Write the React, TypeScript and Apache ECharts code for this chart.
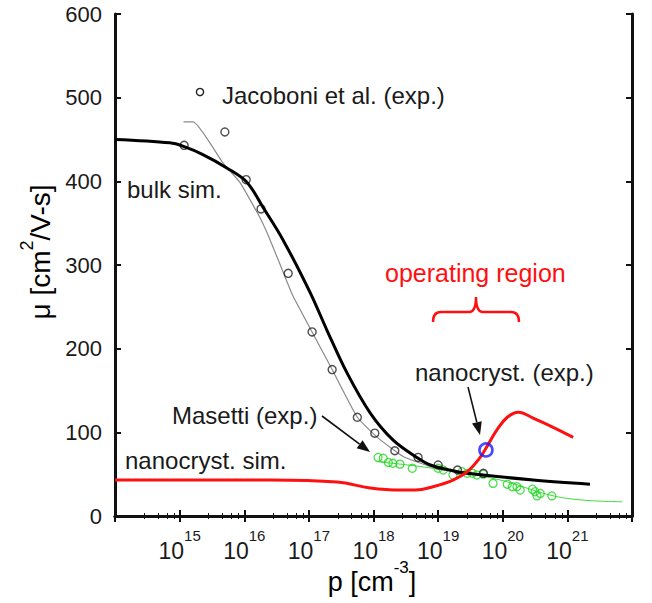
import React, { useEffect, useRef } from 'react';
import * as echarts from 'echarts';

const FONT = 'Liberation Sans, Arial, sans-serif';

// x values stored as log10(p [cm^-3])
const bulkSimLogP = [14.0, 14.85, 15.05, 15.36, 15.73, 16.04, 16.29, 16.6, 17.02, 17.28, 17.59, 17.95, 18.3, 18.67, 18.88, 19.3, 19.7, 20.47, 21.35];
const bulkSimMu = [450, 446, 442, 432, 416, 399, 369, 330, 267, 222, 171, 123, 91, 70, 61, 53, 49, 43, 38];

const jacoboniFitLogP = [15.06, 15.21, 15.67, 15.93, 16.24, 16.4, 16.63, 16.76, 17.05, 17.36, 17.75, 18.06, 18.46, 18.88, 19.0];
const jacoboniFitMu = [471, 471, 422, 399, 357, 330, 286, 262, 220, 175, 118, 94, 71, 59, 57];

const jacoboniLogP = [15.07, 15.7, 16.03, 16.26, 16.68, 17.05, 17.36, 17.75, 18.02, 18.33, 18.69, 19.0, 19.3, 19.7];
const jacoboniMu = [443, 459, 402, 367, 290, 220, 175, 118, 99, 78, 70, 61, 55, 51];

const masettiLogP = [18.07, 18.15, 18.23, 18.3, 18.41, 18.6, 19.0, 19.08, 19.23, 19.37, 19.45, 19.53, 19.6, 19.7, 19.85, 20.07, 20.15, 20.22, 20.27, 20.46, 20.5, 20.53, 20.58, 20.76];
const masettiMu = [70, 69, 64, 63, 62, 57, 57, 55, 49, 53, 51, 51, 49, 50, 39, 38, 35, 35, 31, 32, 29, 24, 27, 24];

const masettiFitLogP = [18.06, 18.92, 19.96, 20.73, 21.24, 21.85];
const masettiFitMu = [65, 57, 43, 25, 19, 17];

const nanoSimLogP = [14.0, 16.4, 17.44, 17.95, 18.41, 18.65, 18.92, 19.23, 19.45, 19.65, 19.77, 19.91, 20.07, 20.24, 20.47, 20.78, 21.09];
const nanoSimMu = [43, 43, 40.6, 33.5, 31, 31, 35, 43, 53, 70, 85, 103, 118, 124, 117, 106, 94];

const nanoExpLogP = [19.74];
const nanoExpMu = [79];

const yTicks = [0, 100, 200, 300, 400, 500, 600];

const pts = (lx: number[], ys: number[]) => lx.map((e, i) => [Math.pow(10, e), ys[i]]);

function arrow(x1: number, y1: number, x2: number, y2: number) {
  const dx = x2 - x1, dy = y2 - y1;
  const len = Math.sqrt(dx * dx + dy * dy);
  const ux = dx / len, uy = dy / len;
  const hl = 13, hw = 5;
  const bx = x2 - ux * hl, by = y2 - uy * hl;
  return [
    { type: 'line', shape: { x1, y1, x2: bx, y2: by }, style: { stroke: '#111', lineWidth: 1.6 } },
    {
      type: 'polygon',
      shape: { points: [[x2, y2], [bx - uy * hw, by + ux * hw], [bx + uy * hw, by - ux * hw]] },
      style: { fill: '#111' },
    },
  ];
}

export default function App() {
  const ref = useRef<HTMLDivElement>(null);
  useEffect(() => {
    document.body.style.margin = '0';
    const chart = echarts.init(ref.current!, null, { renderer: 'svg' });
    echarts.graphic.registerShape(
      'brace',
      echarts.graphic.extendPath('M0,10 Q0,0 8,0 L36,0 Q43,0 43,-15 Q43,0 50,0 L78,0 Q86,0 86,10', {})
    );
    const axisLine = { show: true, lineStyle: { color: '#111', width: 3 } };
    const textStyle = (size: number, color = '#1a1a1a') => ({ fontSize: size, fontFamily: FONT, fill: color });
    const option: any = {
      animation: false,
      backgroundColor: '#fff',
      grid: { left: 115, right: 20, top: 14, bottom: 87, containLabel: false },
      xAxis: [
        {
          type: 'log',
          logBase: 10,
          min: 1e14,
          max: 1e22,
          splitNumber: 8,
          axisLine,
          axisTick: { show: true, inside: true, length: 6, lineStyle: { color: '#111', width: 2 } },
          minorTick: { show: true, splitNumber: 5, length: 3, lineStyle: { color: '#111', width: 1 } },
          splitLine: { show: false },
          axisLabel: {
            showMinLabel: false,
            showMaxLabel: false,
            margin: 12,
            formatter: (v: number) => `{b|10}{s|${Math.round(Math.log10(v))}}`,
            rich: {
              b: { fontSize: 23, lineHeight: 34, verticalAlign: 'bottom', fontFamily: FONT, color: '#1a1a1a' },
              s: { fontSize: 15, lineHeight: 15, verticalAlign: 'top', fontFamily: FONT, color: '#1a1a1a' },
            },
          },
        },
        {
          type: 'log',
          logBase: 10,
          min: 1e14,
          max: 1e22,
          splitNumber: 8,
          position: 'top',
          axisLine,
          axisTick: { show: true, inside: true, length: 6, lineStyle: { color: '#111', width: 2 } },
          minorTick: { show: true, splitNumber: 5, length: 3, lineStyle: { color: '#111', width: 1 } },
          splitLine: { show: false },
          axisLabel: { show: false },
        },
      ],
      yAxis: [
        {
          type: 'value',
          min: 0,
          max: 600,
          interval: 100,
          axisLine,
          axisTick: { show: true, inside: true, length: 6, lineStyle: { color: '#111', width: 2 } },
          splitLine: { show: false },
          axisLabel: {
            margin: 13,
            fontSize: 22,
            fontFamily: FONT,
            color: '#1a1a1a',
            formatter: (v: number) => (yTicks.includes(v) ? String(v) : ''),
          },
        },
        {
          type: 'value',
          min: 0,
          max: 600,
          interval: 100,
          position: 'right',
          axisLine,
          axisTick: { show: true, inside: true, length: 6, lineStyle: { color: '#111', width: 2 } },
          splitLine: { show: false },
          axisLabel: { show: false },
        },
      ],
      series: [
        {
          name: 'Masetti fit',
          type: 'line',
          data: pts(masettiFitLogP, masettiFitMu),
          smooth: 0.4,
          showSymbol: false,
          lineStyle: { color: '#3ddc3d', width: 1 },
          z: 2,
        },
        {
          name: 'Masetti (exp.)',
          type: 'scatter',
          data: pts(masettiLogP, masettiMu),
          symbol: 'circle',
          symbolSize: 8,
          itemStyle: { color: 'rgba(0,0,0,0)', borderColor: '#22d622', borderWidth: 1.3 },
          z: 3,
        },
        {
          name: 'Jacoboni fit',
          type: 'line',
          data: pts(jacoboniFitLogP, jacoboniFitMu),
          smooth: 0.15,
          showSymbol: false,
          lineStyle: { color: '#8a8a8a', width: 1.2 },
          z: 2,
        },
        {
          name: 'Jacoboni et al. (exp.)',
          type: 'scatter',
          data: pts(jacoboniLogP, jacoboniMu),
          symbol: 'circle',
          symbolSize: 8,
          itemStyle: { color: 'rgba(0,0,0,0)', borderColor: '#222', borderWidth: 1.4 },
          z: 4,
        },
        {
          name: 'bulk sim.',
          type: 'line',
          data: pts(bulkSimLogP, bulkSimMu),
          smooth: 0.35,
          showSymbol: false,
          lineStyle: { color: '#000', width: 3 },
          z: 5,
        },
        {
          name: 'nanocryst. sim.',
          type: 'line',
          data: pts(nanoSimLogP, nanoSimMu),
          smooth: 0.4,
          showSymbol: false,
          lineStyle: { color: '#ff1010', width: 3 },
          z: 6,
        },
        {
          name: 'nanocryst. (exp.)',
          type: 'scatter',
          data: pts(nanoExpLogP, nanoExpMu),
          symbol: 'circle',
          symbolSize: 13,
          itemStyle: { color: 'rgba(0,0,0,0)', borderColor: '#1a1aff', borderWidth: 2.6 },
          z: 7,
        },
      ],
      graphic: [
        { type: 'circle', shape: { cx: 200, cy: 92, r: 3.6 }, style: { fill: 'none', stroke: '#222', lineWidth: 1.4 } },
        { type: 'text', x: 222, y: 95, style: { text: 'Jacoboni et al. (exp.)', ...textStyle(24), verticalAlign: 'middle' } },
        { type: 'text', x: 127, y: 189, style: { text: 'bulk sim.', ...textStyle(24), verticalAlign: 'middle' } },
        { type: 'text', x: 385, y: 273, style: { text: 'operating region', ...textStyle(25, '#ff1010'), verticalAlign: 'middle' } },
        { type: 'brace', x: 433, y: 312, style: { fill: 'none', stroke: '#ff1010', lineWidth: 2.5 } },
        { type: 'text', x: 415, y: 372, style: { text: 'nanocryst. (exp.)', ...textStyle(24), verticalAlign: 'middle' } },
        { type: 'text', x: 172, y: 415, style: { text: 'Masetti (exp.)', ...textStyle(24), verticalAlign: 'middle' } },
        { type: 'text', x: 125, y: 460, style: { text: 'nanocryst. sim.', ...textStyle(24), verticalAlign: 'middle' } },
        ...arrow(322, 416, 370, 452),
        ...arrow(468, 387, 480, 435),
        {
          type: 'text',
          x: 372,
          y: 577,
          style: {
            text: '{a|p [cm}{s|-3}{a|]}',
            align: 'center',
            verticalAlign: 'middle',
            rich: {
              a: { fontSize: 27, lineHeight: 36, verticalAlign: 'bottom', fontFamily: FONT, color: '#1a1a1a' },
              s: { fontSize: 17, lineHeight: 17, verticalAlign: 'top', fontFamily: FONT, color: '#1a1a1a' },
            },
          },
        },
        {
          type: 'text',
          x: 36,
          y: 252,
          rotation: Math.PI / 2,
          style: {
            text: '{a|μ [cm}{s|2}{a|/V-s]}',
            align: 'center',
            verticalAlign: 'middle',
            rich: {
              a: { fontSize: 28, lineHeight: 36, verticalAlign: 'bottom', fontFamily: FONT, color: '#1a1a1a' },
              s: { fontSize: 18, lineHeight: 18, verticalAlign: 'top', fontFamily: FONT, color: '#1a1a1a' },
            },
          },
        },
      ],
    };
    chart.setOption(option);
    return () => chart.dispose();
  }, []);
  return <div ref={ref} style={{ width: 652, height: 603 }} />;
}
